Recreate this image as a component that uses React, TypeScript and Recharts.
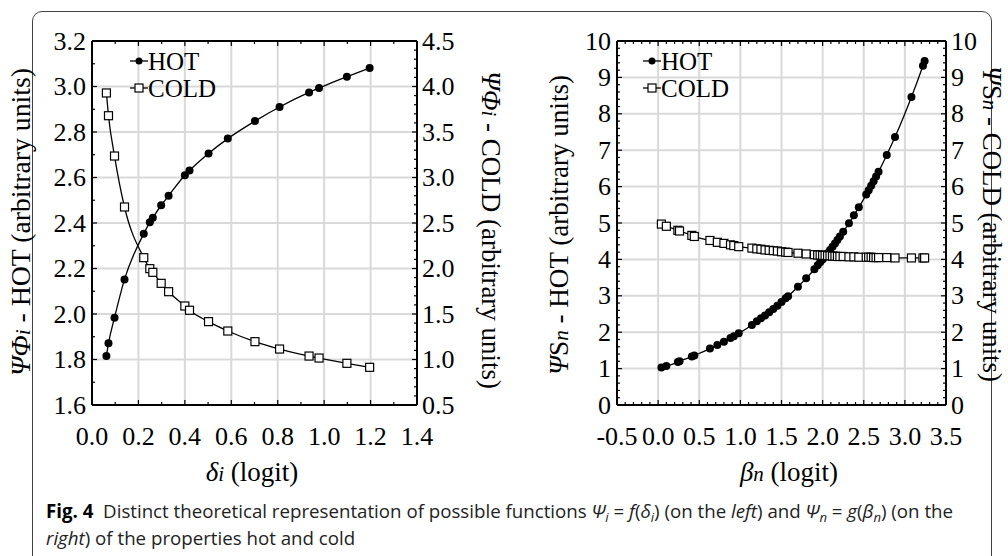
import React from 'react';
import { LineChart, Line, XAxis, YAxis, CartesianGrid } from 'recharts';

// ---- left panel: Psi = f(delta_i) ----
const deltaI = [0.062, 0.071, 0.097, 0.14, 0.223, 0.249, 0.262, 0.298, 0.33, 0.4, 0.42, 0.502, 0.585, 0.702, 0.808, 0.935, 0.978, 1.098, 1.196];
const hotLeft = [1.815, 1.871, 1.984, 2.152, 2.353, 2.403, 2.423, 2.478, 2.52, 2.61, 2.631, 2.706, 2.771, 2.848, 2.91, 2.974, 2.993, 3.043, 3.081];
const coldLeft = [3.929, 3.679, 3.236, 2.676, 2.119, 1.998, 1.958, 1.837, 1.745, 1.588, 1.541, 1.416, 1.313, 1.196, 1.115, 1.038, 1.016, 0.958, 0.914];

// ---- right panel: Psi = g(beta_n) ----
const betaN = [0.04, 0.1, 0.24, 0.26, 0.41, 0.44, 0.63, 0.72, 0.8, 0.88, 0.92, 0.98, 1.14, 1.2, 1.25, 1.3, 1.35, 1.4, 1.45, 1.5, 1.55, 1.58, 1.7, 1.8, 1.9, 1.94, 1.97, 2.0, 2.03, 2.06, 2.09, 2.12, 2.15, 2.18, 2.21, 2.25, 2.32, 2.38, 2.44, 2.53, 2.56, 2.59, 2.62, 2.65, 2.68, 2.78, 2.88, 3.08, 3.22, 3.24];
const hotRight = [1.03, 1.07, 1.18, 1.2, 1.33, 1.36, 1.55, 1.65, 1.74, 1.84, 1.89, 1.97, 2.2, 2.3, 2.38, 2.46, 2.55, 2.64, 2.73, 2.83, 2.93, 2.99, 3.25, 3.48, 3.73, 3.84, 3.92, 4.0, 4.08, 4.17, 4.26, 4.35, 4.44, 4.53, 4.63, 4.76, 4.99, 5.21, 5.43, 5.78, 5.9, 6.02, 6.15, 6.28, 6.41, 6.87, 7.36, 8.46, 9.32, 9.45];
const coldRight = [4.97, 4.91, 4.8, 4.78, 4.66, 4.63, 4.52, 4.47, 4.44, 4.4, 4.38, 4.35, 4.31, 4.29, 4.28, 4.26, 4.25, 4.24, 4.23, 4.21, 4.2, 4.19, 4.17, 4.15, 4.13, 4.12, 4.12, 4.11, 4.11, 4.1, 4.1, 4.09, 4.09, 4.08, 4.08, 4.08, 4.07, 4.07, 4.06, 4.06, 4.06, 4.06, 4.05, 4.05, 4.05, 4.05, 4.04, 4.04, 4.04, 4.04];

// tick labels
const leftXTicks = [0, 0.2, 0.4, 0.6, 0.8, 1.0, 1.2, 1.4];
const leftXLabels = ['0.0', '0.2', '0.4', '0.6', '0.8', '1.0', '1.2', '1.4'];
const leftHotTicks = [1.6, 1.8, 2.0, 2.2, 2.4, 2.6, 2.8, 3.0, 3.2];
const leftHotLabels = ['1.6', '1.8', '2.0', '2.2', '2.4', '2.6', '2.8', '3.0', '3.2'];
const leftColdTicks = [0.5, 1.0, 1.5, 2.0, 2.5, 3.0, 3.5, 4.0, 4.5];
const leftColdLabels = ['0.5', '1.0', '1.5', '2.0', '2.5', '3.0', '3.5', '4.0', '4.5'];
const rightXTicks = [-0.5, 0, 0.5, 1.0, 1.5, 2.0, 2.5, 3.0, 3.5];
const rightXLabels = ['-0.5', '0.0', '0.5', '1.0', '1.5', '2.0', '2.5', '3.0', '3.5'];
const rightYTicks = [0, 1, 2, 3, 4, 5, 6, 7, 8, 9, 10];
const rightYLabels = ['0', '1', '2', '3', '4', '5', '6', '7', '8', '9', '10'];

const SERIF = "'Liberation Serif', 'Times New Roman', serif";
const TICK_FONT = 26;

// majors plus unlabelled minor ticks in between
const withMinors = (majors: number[], n: number) => {
  const out: number[] = [];
  majors.forEach((m, i) => {
    out.push(m);
    if (i < majors.length - 1) {
      const step = (majors[i + 1] - m) / n;
      for (let k = 1; k < n; k++) out.push(Math.round((m + k * step) * 1e6) / 1e6);
    }
  });
  return out;
};

type Side = 'bottom' | 'top' | 'left' | 'right';

const makeTick = (side: Side, majors: number[], labels: string[] | null) => (props: any) => {
  const { x, y, payload, index } = props;
  const idx = majors.findIndex((m) => Math.abs(m - payload.value) < 1e-6);
  const len = idx >= 0 ? 5 : 3;
  let line = null;
  let label = null;
  if (side === 'bottom') {
    line = <line x1={x} x2={x} y1={y} y2={y - len} stroke="#000" strokeWidth={1.2} />;
    if (labels && idx >= 0) label = <text x={x} y={y + 40} textAnchor="middle" fontSize={TICK_FONT} fontFamily={SERIF} fill="#000">{labels[idx]}</text>;
  } else if (side === 'top') {
    line = <line x1={x} x2={x} y1={y} y2={y + len} stroke="#000" strokeWidth={1.2} />;
  } else if (side === 'left') {
    line = <line x1={x} x2={x + len} y1={y} y2={y} stroke="#000" strokeWidth={1.2} />;
    if (labels && idx >= 0) label = <text x={x - 6} y={y + 8.5} textAnchor="end" fontSize={TICK_FONT} fontFamily={SERIF} fill="#000">{labels[idx]}</text>;
  } else {
    line = <line x1={x} x2={x - len} y1={y} y2={y} stroke="#000" strokeWidth={1.2} />;
    if (labels && idx >= 0) label = <text x={x + 5} y={y + 8.5} textAnchor="start" fontSize={TICK_FONT} fontFamily={SERIF} fill="#000">{labels[idx]}</text>;
  }
  return <g key={`t-${side}-${index}`}>{line}{label}</g>;
};

const HotDot = (p: any) => <circle key={`h-${p.index}`} cx={p.cx} cy={p.cy} r={4} fill="#000" />;
const ColdDot = (p: any) => <rect key={`c-${p.index}`} x={p.cx - 4} y={p.cy - 4} width={8} height={8} fill="#fff" stroke="#000" strokeWidth={1.2} />;

type PanelProps = {
  data: { x: number; hot: number; cold: number }[];
  xDomain: [number, number]; xMajors: number[]; xLabels: string[]; xN: number;
  yDomain: [number, number]; yMajors: number[]; yLabels: string[]; yN: number;
  y2Domain: [number, number]; y2Majors: number[]; y2Labels: string[]; y2N: number;
  leftW: number; rightW: number;
};

function Panel(p: PanelProps) {
  const axisLine = { stroke: '#000', strokeWidth: 2 };
  return (
    <LineChart width={504} height={556} data={p.data} margin={{ top: 11, right: 0, bottom: 121, left: 0 }}>
      <CartesianGrid xAxisId="b" yAxisId="l" stroke="#d9d9d9" strokeWidth={2}
        verticalValues={p.xMajors} horizontalValues={p.yMajors} />
      <XAxis xAxisId="b" dataKey="x" type="number" domain={p.xDomain} ticks={withMinors(p.xMajors, p.xN)}
        interval={0} tickSize={0} tickMargin={0} height={30} axisLine={axisLine} tickLine={false}
        tick={makeTick('bottom', p.xMajors, p.xLabels)} allowDataOverflow />
      <XAxis xAxisId="t" orientation="top" dataKey="x" type="number" domain={p.xDomain} ticks={withMinors(p.xMajors, p.xN)}
        interval={0} tickSize={0} tickMargin={0} height={30} axisLine={axisLine} tickLine={false}
        tick={makeTick('top', p.xMajors, null)} allowDataOverflow />
      <YAxis yAxisId="l" type="number" domain={p.yDomain} ticks={withMinors(p.yMajors, p.yN)} width={p.leftW}
        interval={0} tickSize={0} tickMargin={0} axisLine={axisLine} tickLine={false}
        tick={makeTick('left', p.yMajors, p.yLabels)} allowDataOverflow />
      <YAxis yAxisId="r" orientation="right" type="number" domain={p.y2Domain} ticks={withMinors(p.y2Majors, p.y2N)} width={p.rightW}
        interval={0} tickSize={0} tickMargin={0} axisLine={axisLine} tickLine={false}
        tick={makeTick('right', p.y2Majors, p.y2Labels)} allowDataOverflow />
      <Line xAxisId="b" yAxisId="l" dataKey="hot" type="monotone" stroke="#000" strokeWidth={1.3}
        dot={HotDot} activeDot={false} isAnimationActive={false} />
      <Line xAxisId="b" yAxisId="r" dataKey="cold" type="monotone" stroke="#000" strokeWidth={1.3}
        dot={ColdDot} activeDot={false} isAnimationActive={false} />
    </LineChart>
  );
}

function LegendBox({ x }: { x: number }) {
  return (
    <g fontFamily={SERIF} fontSize={25}>
      <line x1={x} x2={x + 18} y1={61} y2={61} stroke="#000" strokeWidth={1.3} />
      <circle cx={x + 9} cy={61} r={3.5} fill="#000" />
      <text x={x + 18} y={69.5}>HOT</text>
      <line x1={x} x2={x + 18} y1={88} y2={88} stroke="#000" strokeWidth={1.3} />
      <rect x={x + 5} y={84} width={8} height={8} fill="#fff" stroke="#000" strokeWidth={1.2} />
      <text x={x + 18} y={96.5}>COLD</text>
    </g>
  );
}

const sub: React.CSSProperties = { fontSize: '0.7em', position: 'relative', top: '0.3em', lineHeight: 0 };

export default function App() {
  const leftData = deltaI.map((x, i) => ({ x, hot: hotLeft[i], cold: coldLeft[i] }));
  const rightData = betaN.map((x, i) => ({ x, hot: hotRight[i], cold: coldRight[i] }));
  const T = 27;

  return (
    <div style={{ position: 'absolute', left: 0, top: 0, width: 1008, height: 556, overflow: 'hidden', background: '#fff' }}>
      <div style={{ position: 'absolute', left: 32, top: 11, width: 958, height: 600, border: '1.4px solid #444', borderRadius: 10 }} />
      <div style={{ position: 'absolute', left: 0, top: 0 }}>
        <Panel data={leftData}
          xDomain={[0, 1.4]} xMajors={leftXTicks} xLabels={leftXLabels} xN={2}
          yDomain={[1.6, 3.2]} yMajors={leftHotTicks} yLabels={leftHotLabels} yN={2}
          y2Domain={[0.5, 4.5]} y2Majors={leftColdTicks} y2Labels={leftColdLabels} y2N={5}
          leftW={92} rightW={87} />
      </div>
      <div style={{ position: 'absolute', left: 504, top: 0 }}>
        <Panel data={rightData}
          xDomain={[-0.5, 3.5]} xMajors={rightXTicks} xLabels={rightXLabels} xN={5}
          yDomain={[0, 10]} yMajors={rightYTicks} yLabels={rightYLabels} yN={5}
          y2Domain={[0, 10]} y2Majors={rightYTicks} y2Labels={rightYLabels} y2N={5}
          leftW={113} rightW={62} />
      </div>

      {/* axis titles and legends */}
      <svg width={1008} height={556} style={{ position: 'absolute', left: 0, top: 0, pointerEvents: 'none' }}>
        <LegendBox x={130} />
        <LegendBox x={643} />
        <g fontFamily={SERIF} fontSize={T} fill="#000">
          <text transform="translate(30,222) rotate(-90)" textAnchor="middle" textLength={308} lengthAdjust="spacingAndGlyphs">
            <tspan fontStyle="italic">ΨΦ</tspan><tspan fontStyle="italic" fontSize={21}>i</tspan> - HOT (arbitrary units)
          </text>
          <text transform="translate(482,230) rotate(90)" textAnchor="middle" textLength={318} lengthAdjust="spacingAndGlyphs">
            <tspan fontStyle="italic">ΨΦ</tspan><tspan fontStyle="italic" fontSize={21}>i</tspan> - COLD (arbitrary units)
          </text>
          <text x={252} y={481} textAnchor="middle">
            <tspan fontStyle="italic">δ</tspan><tspan fontStyle="italic" fontSize={21}>i</tspan> (logit)
          </text>
          <text transform="translate(568,225) rotate(-90)" textAnchor="middle" textLength={300} lengthAdjust="spacingAndGlyphs">
            <tspan fontStyle="italic">Ψ</tspan>S<tspan fontStyle="italic" fontSize={21}>n</tspan> - HOT (arbitrary units)
          </text>
          <text transform="translate(983,224) rotate(90)" textAnchor="middle" textLength={316} lengthAdjust="spacingAndGlyphs">
            <tspan fontStyle="italic">Ψ</tspan>S<tspan fontStyle="italic" fontSize={21}>n</tspan> - COLD (arbitrary units)
          </text>
          <text x={789} y={481} textAnchor="middle">
            <tspan fontStyle="italic">β</tspan><tspan fontStyle="italic" fontSize={21}>n</tspan> (logit)
          </text>
        </g>
      </svg>

      {/* caption */}
      <div style={{ position: 'absolute', left: 46, top: 497, fontFamily: "'Open Sans', 'Noto Sans', sans-serif", fontSize: 18.7, lineHeight: '27px', color: '#222', whiteSpace: 'nowrap' }}>
        <div>
          <b style={{ color: '#000' }}>Fig. 4</b>&nbsp;&nbsp;Distinct theoretical representation of possible functions{' '}
          <i>Ψ<span style={sub}>i</span></i> = <i>f</i>(<i>δ<span style={sub}>i</span></i>) (on the <i>left</i>) and{' '}
          <i>Ψ<span style={sub}>n</span></i> = <i>g</i>(<i>β<span style={sub}>n</span></i>) (on the
        </div>
        <div><i>right</i>) of the properties hot and cold</div>
      </div>
    </div>
  );
}
